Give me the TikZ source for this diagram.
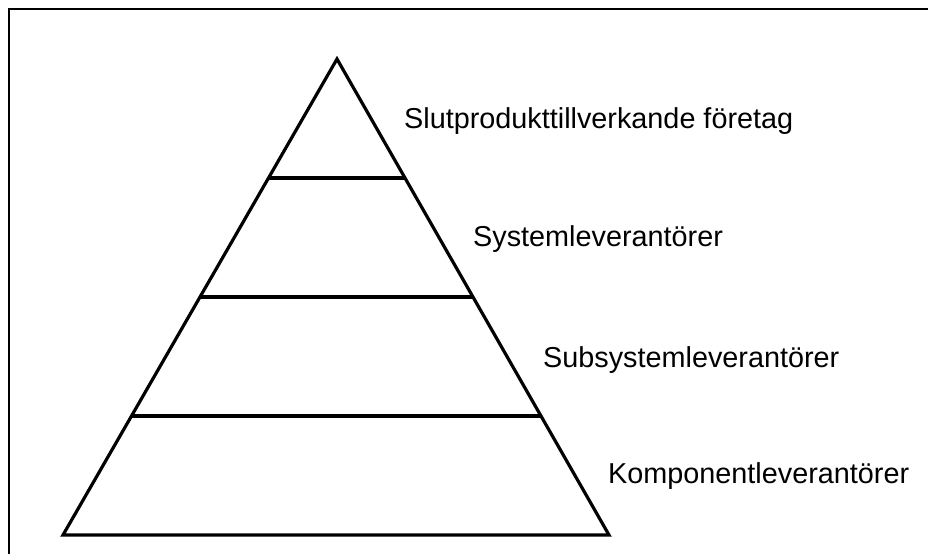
\documentclass[tikz,border=0pt]{standalone}
\usepackage{fontspec}
\setmainfont{Liberation Sans}
\usepackage{tikz}
\usetikzlibrary{calc}

\tikzset{levelname/.style={anchor=base west, inner sep=0pt, font=\fontsize{28.8}{32}\selectfont}}

\begin{document}
\begin{tikzpicture}[x=1pt,y=-1pt]
	\useasboundingbox (0,0) rectangle (928,554);
	% Frame
	\draw[line width=2.2pt] (9,554) -- (9,9) -- (928,9);

	\coordinate (top) at (337,59);
	\coordinate (left) at (63,535);
	\coordinate (right) at (609,535);
	\draw[line width=3.2pt, line join=miter] (top) -- (left) -- (right) -- cycle;

	% Levels
	\foreach \t in {0.25,0.5,0.75}
		\draw[line width=3.2pt] ($(top)!\t!(left)$) -- ($(top)!\t!(right)$);

	\node (lvl1) [levelname] at (404,128) {Slutprodukttillverkande företag};
	\node (lvl2) [levelname] at (473,246) {Systemleverantörer};
	\node (lvl3) [levelname] at (543,367) {Subsystemleverantörer};
	\node (lvl4) [levelname] at (608,483) {Komponentleverantörer};
\end{tikzpicture}
\end{document}
